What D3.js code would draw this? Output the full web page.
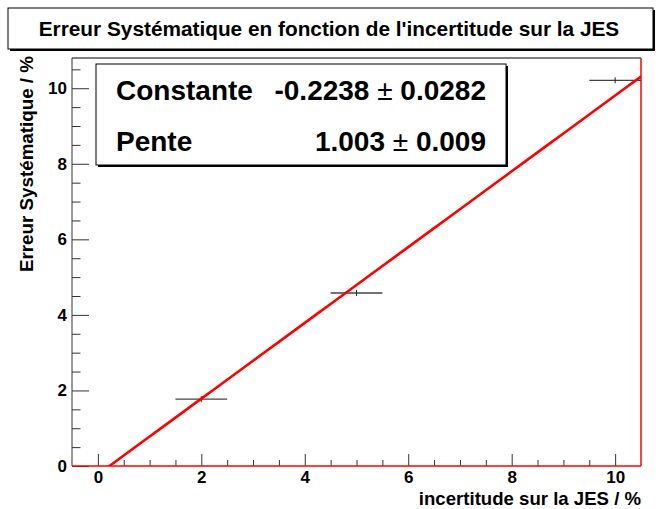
<!DOCTYPE html>
<html>
<head>
<meta charset="utf-8">
<script src="https://cdn.jsdelivr.net/npm/d3@7"></script>
<style>
  body { margin: 0; background: #fff; }
  svg text { font-family: "Liberation Sans", Arial, Helvetica, sans-serif; font-weight: bold; }
</style>
</head>
<body>
<svg id="chart" width="661" height="509"></svg>
<script>
// Measured systematic error vs. JES uncertainty
const jesUncertainty = [2, 5, 10];
const jesHalfWidth = [0.5, 0.5, 0.5];
const systError = [1.77, 4.58, 10.21];

// Linear fit results
const fitNames = ["Constante", "Pente"];
const fitValues = [-0.2238, 1.003];
const fitErrors = [0.0282, 0.009];
const fitDigits = [4, 3];

// Axis ticks
const xTicks = [0, 2, 4, 6, 8, 10];
const yTicks = [0, 2, 4, 6, 8, 10];
const xMinorTicks = [0.5, 1, 1.5, 2.5, 3, 3.5, 4.5, 5, 5.5, 6.5, 7, 7.5, 8.5, 9, 9.5];
const yMinorTicks = [0.5, 1, 1.5, 2.5, 3, 3.5, 4.5, 5, 5.5, 6.5, 7, 7.5, 8.5, 9, 9.5, 10.5];

const titleText = "Erreur Systématique en fonction de l'incertitude sur la JES";
const xTitle = "incertitude sur la JES / %";
const yTitle = "Erreur Systématique / %";

const svg = d3.select("#chart");
const frame = { left: 72, right: 641, top: 58, bottom: 466 };

const x = d3.scaleLinear().domain([-0.5, 10.5]).range([frame.left, frame.right]);
const y = d3.scaleLinear().domain([0, 10.8]).range([frame.bottom, frame.top]);

// ---- title pave with shadow
const tb = { x: 8, y: 8, w: 645, h: 41 };
svg.append("rect").attr("x", tb.x + 2).attr("y", tb.y + 2).attr("width", tb.w).attr("height", tb.h).attr("fill", "#000");
svg.append("rect").attr("x", tb.x).attr("y", tb.y).attr("width", tb.w).attr("height", tb.h)
  .attr("fill", "#fff").attr("stroke", "#000").attr("stroke-width", 1);
svg.append("text").attr("x", 329).attr("y", 36).attr("text-anchor", "middle")
  .style("font-size", "20.8px").text(titleText);

// ---- axes
const axisColor = "#333";
const gx = svg.append("g").attr("transform", `translate(0,${frame.bottom})`)
  .call(d3.axisBottom(x).tickValues(xTicks).tickSize(-12).tickPadding(5).tickFormat(d3.format("d")));
const gxm = svg.append("g").attr("transform", `translate(0,${frame.bottom})`)
  .call(d3.axisBottom(x).tickValues(xMinorTicks).tickSize(-6).tickFormat(""));
const gy = svg.append("g").attr("transform", `translate(${frame.left},0)`)
  .call(d3.axisLeft(y).tickValues(yTicks).tickSize(-17).tickPadding(5).tickFormat(d3.format("d")));
const gym = svg.append("g").attr("transform", `translate(${frame.left},0)`)
  .call(d3.axisLeft(y).tickValues(yMinorTicks).tickSize(-8.5).tickFormat(""));
[gx, gxm, gy, gym].forEach(g => {
  g.select(".domain").remove();
  g.selectAll(".tick line").attr("stroke", axisColor);
  g.selectAll(".tick text").attr("fill", "#000").style("font-size", "17px");
});

// frame borders
svg.append("line").attr("x1", frame.left).attr("x2", frame.right).attr("y1", frame.top).attr("y2", frame.top)
  .attr("stroke", "#000");
svg.append("line").attr("x1", frame.left).attr("x2", frame.left).attr("y1", frame.top).attr("y2", frame.bottom)
  .attr("stroke", axisColor);
svg.append("line").attr("x1", frame.left).attr("x2", frame.right).attr("y1", frame.bottom).attr("y2", frame.bottom)
  .attr("stroke", "#f00").attr("stroke-width", 1.5);
svg.append("line").attr("x1", frame.right).attr("x2", frame.right).attr("y1", frame.top).attr("y2", frame.bottom)
  .attr("stroke", "#f00").attr("stroke-width", 1.5);

// axis titles
svg.append("text").attr("x", frame.right).attr("y", 505).attr("text-anchor", "end")
  .style("font-size", "18.6px").text(xTitle);
svg.append("text").attr("transform", `translate(33,56) rotate(-90)`).attr("text-anchor", "end")
  .style("font-size", "18.8px").text(yTitle);

// ---- data points with horizontal error bars
const pts = jesUncertainty.map((v, i) => ({ x: v, ex: jesHalfWidth[i], y: systError[i] }));
svg.append("defs").append("clipPath").attr("id", "frameClip").append("rect")
  .attr("x", frame.left).attr("y", frame.top).attr("width", frame.right - frame.left).attr("height", frame.bottom - frame.top);
const gp = svg.append("g").attr("clip-path", "url(#frameClip)");
gp.selectAll("line.ex").data(pts).join("line").attr("class", "ex")
  .attr("x1", d => x(d.x - d.ex)).attr("x2", d => x(d.x + d.ex))
  .attr("y1", d => y(d.y)).attr("y2", d => y(d.y))
  .attr("stroke", "#444").attr("stroke-width", 1.3);
gp.selectAll("line.mk").data(pts).join("line").attr("class", "mk")
  .attr("x1", d => x(d.x)).attr("x2", d => x(d.x))
  .attr("y1", d => y(d.y) - 3).attr("y2", d => y(d.y) + 3)
  .attr("stroke", "#222").attr("stroke-width", 1);

// ---- fitted line  y = constante + pente * x
const fitX = d3.range(-0.5, 10.5001, 0.25);
const fitLine = d3.line().x(d => x(d)).y(d => y(fitValues[0] + fitValues[1] * d));
gp.append("path").datum(fitX).attr("d", fitLine).attr("fill", "none")
  .attr("stroke", "#f00").attr("stroke-width", 2.6);

// ---- fit statistics box
const sb = { x: 96, y: 64, w: 410, h: 101 };
svg.append("rect").attr("x", sb.x + 2).attr("y", sb.y + 2).attr("width", sb.w).attr("height", sb.h).attr("fill", "#000");
svg.append("rect").attr("x", sb.x).attr("y", sb.y).attr("width", sb.w).attr("height", sb.h)
  .attr("fill", "#fff").attr("stroke", "#000").attr("stroke-width", 1);
const rowY = [100, 151];
fitNames.forEach((name, i) => {
  svg.append("text").attr("x", 116).attr("y", rowY[i]).style("font-size", "28px").text(name);
  const t = svg.append("text").attr("x", 486).attr("y", rowY[i]).attr("text-anchor", "end").style("font-size", "28px");
  t.append("tspan").text(fitValues[i].toFixed(fitDigits[i]));
  t.append("tspan").style("font-weight", "normal").text(" \u00B1 ");
  t.append("tspan").text(fitErrors[i].toFixed(fitDigits[i]));
});
</script>
</body>
</html>
